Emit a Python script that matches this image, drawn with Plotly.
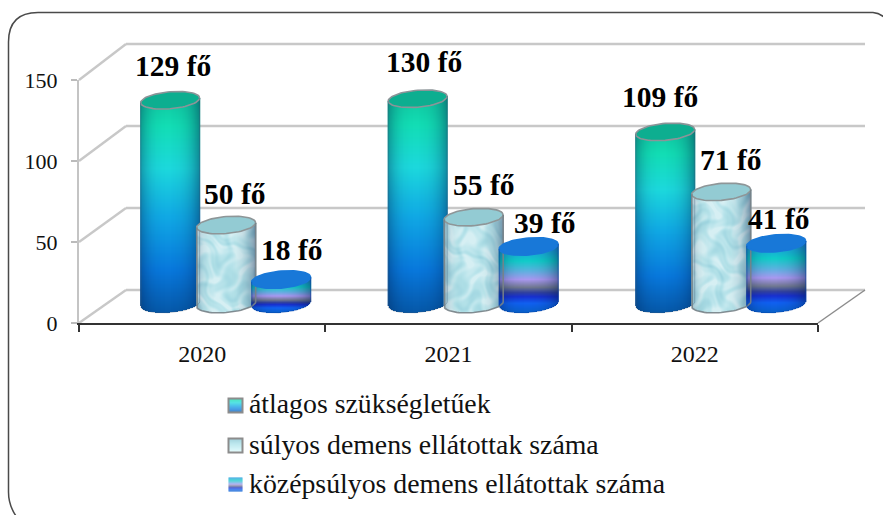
import numpy as np
import plotly.graph_objects as go
from plotly.colors import sample_colorscale

categories = ["2020", "2021", "2022"]
series_names = ["átlagos szükségletűek", "súlyos demens ellátottak száma", "középsúlyos demens ellátottak száma"]
atlagos = [129, 130, 109]
sulyos = [50, 55, 71]
kozepsulyos = [18, 39, 41]
y_ticks = [0, 50, 100, 150]

W, H = 883, 515
L, R, T, B = 79, 818, 80, 323
PX_X = (R - L) / 3
PX_Y = (B - T) / 150
FONT = "Liberation Serif"

SCALE_1 = [[0, "#10C8A0"], [.12, "#12DDB4"], [.32, "#1CD8DC"], [.55, "#10A8E4"], [.8, "#0878DC"], [1, "#0658A8"]]
SCALE_2 = [[0, "#7FC0CE"], [.4, "#A8E0E8"], [.75, "#C4F0F4"], [1, "#E2FBFC"]]
SCALE_3 = [[0, "#2090E0"], [.22, "#10CCC8"], [.38, "#60B0E0"], [.5, "#A898F0"], [.62, "#707890"],
           [.7, "#3040A0"], [.76, "#1830D0"], [.86, "#1060F0"], [1, "#0860C8"]]
SHADE = [[0, "rgba(0,25,70,0)"], [1, "rgba(0,25,70,1)"]]

OFFSETS = [-32 / PX_X, 24 / PX_X, 79 / PX_X]
CAT_DRIFT = 1.2 / PX_X
SERIES_DROP = [0, 0, 4]
RX, RY, TILT = 29.5, 8.5, 0.08
BASE, VAL_SCALE = 11.7, 0.975

LABEL_SHIFT = {
    0: [(3, 34), (8, 31), (10, 26)],
    1: [(6, 37), (10, 32), (16, 19)],
    2: [(-5, 35), (9, 32), (2, 20)],
}


def xp(px):
    return (px - L) / (R - L)


def yp(py):
    return (B - py) / (B - T)


def marble(u, v):
    wu = u + 9 * np.sin(v * 0.09 + 0.7) + 5 * np.sin(v * 0.21 + u * 0.05)
    wv = v + 8 * np.sin(u * 0.13 + 1.9) + 4 * np.sin(u * 0.27 - v * 0.06)
    a = np.sin(wu * 0.19 + 1.1) * np.sin(wv * 0.16)
    b = np.sin(wu * 0.43 + wv * 0.11) * np.sin(wv * 0.37 - 0.5) * 0.5
    return 1.4 * a + b


def cylinder(cat, s, value, scale, top_fill, border):
    cx = cat * (1 + CAT_DRIFT) + OFFSETS[s]
    h = value * VAL_SCALE * PX_Y - SERIES_DROP[s]
    dxs = np.arange(-RX, RX + 0.5, 1.0)
    ups = np.arange(-RY - 4, h + 4, 1.0)
    X, U = np.meshgrid(dxs, ups)
    root = np.sqrt(np.clip(1 - (X / RX) ** 2, 0, 1))
    low = TILT * X - RY * root
    high = h + TILT * X
    mask = (U >= low) & (U <= high)
    t = np.clip((h - U) / (h + RY), 0, 1)
    w = X / RX
    if s == 1:
        m = marble(X + cat * 17, U + cat * 9)
        z = np.clip(0.76 + 0.2 * m, 0, 1)
        alpha = 0.05 + 0.40 * np.clip(w, 0, 1) ** 3 + 0.22 * np.clip(-w, 0, 1) ** 5
    else:
        z = t
        alpha = 0.34 * np.abs(w) ** 3 + 0.08 * np.clip(w, 0, 1)
    z = np.where(mask, z, np.nan)
    alpha = np.where(mask, alpha, np.nan)
    x = cx + dxs / PX_X
    y = BASE + ups / PX_Y
    traces = [
        go.Heatmap(x=x, y=y, z=z, zmin=0, zmax=1, colorscale=scale, showscale=False, hoverinfo="skip",
                   name=series_names[s]),
        go.Heatmap(x=x, y=y, z=alpha, zmin=0, zmax=1, colorscale=SHADE, showscale=False, hoverinfo="skip"),
    ]
    th = np.linspace(0, 2 * np.pi, 73)
    ex = RX * np.cos(th)
    ey = RY * np.sin(th) + TILT * ex
    traces.append(go.Scatter(x=cx + ex / PX_X, y=BASE + (h + ey) / PX_Y, mode="lines", fill="toself",
                             fillcolor=top_fill, line=dict(color=border, width=1.6), hoverinfo="skip",
                             cliponaxis=False, showlegend=False))
    bt = np.linspace(np.pi, 2 * np.pi, 37)
    bx = RX * np.cos(bt)
    by = RY * np.sin(bt) + TILT * bx
    ox = np.r_[-RX, bx, RX]
    oy = np.r_[h - TILT * RX, by, h + TILT * RX]
    edge = {0: "rgba(60,90,120,0.35)", 1: "rgba(120,130,135,0.9)", 2: "rgba(10,70,170,0.5)"}[s]
    traces.append(go.Scatter(x=cx + ox / PX_X, y=BASE + oy / PX_Y, mode="lines",
                             line=dict(color=edge, width=1.6 if s == 1 else 1), hoverinfo="skip",
                             cliponaxis=False, showlegend=False))
    return traces


fig = go.Figure()
styles = [(atlagos, SCALE_1, "#0DAE90", "#8C9498"), (sulyos, SCALE_2, "#93CBD3", "#8E9698"),
          (kozepsulyos, SCALE_3, "#1878D8", "#1878D8")]
annotations = []
for s, (vals, scale, top_fill, border) in enumerate(styles):
    for cat, v in enumerate(vals):
        for tr in cylinder(cat, s, v, scale, top_fill, border):
            fig.add_trace(tr)
        dx, dy = LABEL_SHIFT[cat][s]
        annotations.append(dict(x=cat * (1 + CAT_DRIFT) + OFFSETS[s], y=BASE + v * VAL_SCALE, xref="x", yref="y",
                                text=f"<b>{v} fő</b>", showarrow=False, xshift=dx, yshift=dy,
                                font=dict(family=FONT, size=29.5, color="#000")))

shapes = []
GRID = "#C8C8C8"
DX, DY = 47, 34
for v, back in zip(y_ticks, [290, 208, 126, 44]):
    front = B - v * PX_Y
    shapes.append(dict(type="line", xref="paper", yref="paper", x0=xp(L), y0=yp(front), x1=xp(L + DX), y1=yp(back),
                       line=dict(color=GRID, width=2.4), layer="below"))
    shapes.append(dict(type="line", xref="paper", yref="paper", x0=xp(L + DX), y0=yp(back), x1=xp(R + DX), y1=yp(back),
                       line=dict(color=GRID, width=2.4), layer="below"))
shapes.append(dict(type="line", xref="paper", yref="paper", x0=xp(R), y0=yp(B), x1=xp(R + DX), y1=yp(290),
                   line=dict(color="#8C8C8C", width=1.5), layer="below"))

frame = (f"M {xp(16)} {yp(516)} Q {xp(8.5)} {yp(505)} {xp(8.5)} {yp(492)} L {xp(8.5)} {yp(42)} "
         f"Q {xp(8.5)} {yp(12.5)} {xp(38)} {yp(12.5)} L {xp(873)} {yp(12.5)} Q {xp(879)} {yp(13)} {xp(884)} {yp(17)}")
shapes.append(dict(type="path", xref="paper", yref="paper", path=frame, line=dict(color="#4A4A4A", width=1.5)))

legend_scales = [SCALE_1, SCALE_2, SCALE_3]
rows = [405.5, 445.5, 484.5]
text_rows = [403.5, 444.5, 483.5]
for i, (name, cy, ty) in enumerate(zip(series_names, rows, text_rows)):
    x0, x1 = 228.5, 242.5
    y0, y1 = cy - 7, cy + 7
    n = 14
    cols = sample_colorscale(legend_scales[i], [(k + .5) / n for k in range(n)])
    for k in range(n):
        shapes.append(dict(type="rect", xref="paper", yref="paper", x0=xp(x0), x1=xp(x1),
                           y0=yp(y0 + (y1 - y0) * k / n), y1=yp(y0 + (y1 - y0) * (k + 1) / n),
                           fillcolor=cols[k], line=dict(width=0)))
    if i < 2:
        shapes.append(dict(type="rect", xref="paper", yref="paper", x0=xp(x0), x1=xp(x1), y0=yp(y0), y1=yp(y1),
                           line=dict(color="#8C8C8C", width=2)))
    annotations.append(dict(x=xp(247), y=yp(ty), xref="paper", yref="paper", text=name, showarrow=False,
                            xanchor="left", yanchor="middle", font=dict(family=FONT, size=27.8, color="#111")))

fig.update_layout(
    width=W, height=H, autosize=False, showlegend=False,
    margin=dict(l=L, r=W - R, t=T, b=H - B, pad=0),
    paper_bgcolor="white", plot_bgcolor="rgba(0,0,0,0)",
    shapes=shapes, annotations=annotations,
    xaxis=dict(range=[-0.5, 2.5], tickmode="array", tickvals=[0, 1, 2], ticktext=categories, ticks="",
               showgrid=False, zeroline=False, showline=True, linecolor="#333", linewidth=2,
               tickfont=dict(family=FONT, size=24, color="#111"), ticklabelstandoff=8,
               minor=dict(tickmode="array", tickvals=[-0.5, 0.5, 1.5, 2.5], ticks="outside", ticklen=7,
                          tickcolor="#333", tickwidth=1.5, showgrid=False)),
    yaxis=dict(range=[0, 150], tickmode="array", tickvals=y_ticks, ticks="outside", ticklen=6, tickcolor="#BBB",
               tickwidth=1.5, showgrid=False, zeroline=False, showline=True, linecolor="#C4C4C4", linewidth=2,
               ticklabelstandoff=9, tickfont=dict(family=FONT, size=22, color="#111")),
)
fig.write_html("out.html", post_script="document.body.style.margin='0';", config={"displayModeBar": False})
